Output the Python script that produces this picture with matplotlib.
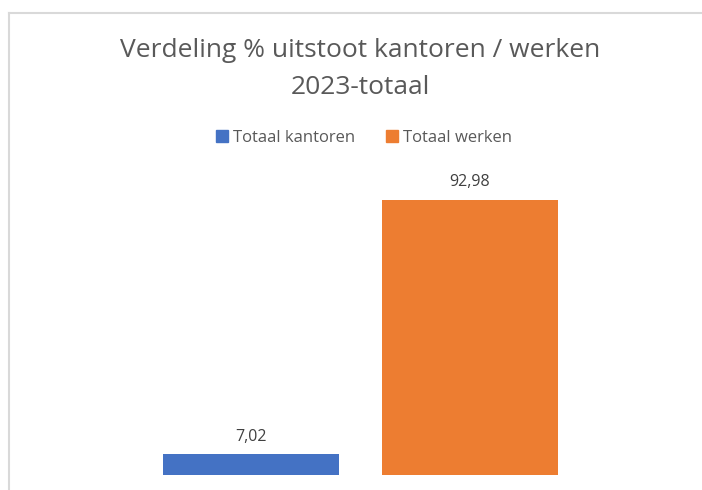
import matplotlib
matplotlib.use("Agg")
import matplotlib.pyplot as plt
from matplotlib.lines import Line2D
from matplotlib.patches import Patch

categories = ["Totaal kantoren", "Totaal werken"]
values = [7.02, 92.98]
colors = ["#4472C4", "#ED7D31"]
title = "Verdeling % uitstoot kantoren / werken\n2023-totaal"

W, H = 702, 490
fig = plt.figure(figsize=(W / 100, H / 100), dpi=100)
fig.patch.set_facecolor("white")

# plot area in pixels
left_px, right_px = 141.5, 579.5
bottom_px = 475
ymax = 100
top_px = bottom_px - 275 / 92.98 * ymax
ax = fig.add_axes([left_px / W, 1 - bottom_px / H, (right_px - left_px) / W, (bottom_px - top_px) / H])
ax.set_xlim(-0.5, 1.5)
ax.set_ylim(0, ymax)
x = list(range(len(categories)))
bars = ax.bar(x, values, width=176 / 219, color=colors)
for xi, v in zip(x, values):
    ax.annotate(f"{v:.2f}".replace(".", ","), (xi, v), xytext=(0, 7), textcoords="offset points",
                ha="center", va="bottom", fontsize=11.5, color="#404040", family="Open Sans")
ax.axis("off")

fig.text(360 / W, 1 - 69 / H, title, ha="center", va="center", fontsize=19,
         color="#595959", family="Open Sans", linespacing=1.6)

handles = [Patch(color=c) for c in colors]
fig.legend(handles, categories, loc="center", bbox_to_anchor=(364 / W, 1 - 138 / H), ncol=2,
           frameon=False, prop={"family": "Open Sans", "size": 12}, labelcolor="#595959",
           handlelength=0.7, handleheight=0.7, handletextpad=0.3, columnspacing=1.9)

# chart frame (top and left border visible)
fig.add_artist(Line2D([9 / W, 9 / W], [0, 1 - 13 / H], transform=fig.transFigure, color="#d9d9d9", lw=1.5))
fig.add_artist(Line2D([9 / W, 1], [1 - 13 / H, 1 - 13 / H], transform=fig.transFigure, color="#d9d9d9", lw=1.5))

fig.savefig("out.png", dpi=100, facecolor="white")
